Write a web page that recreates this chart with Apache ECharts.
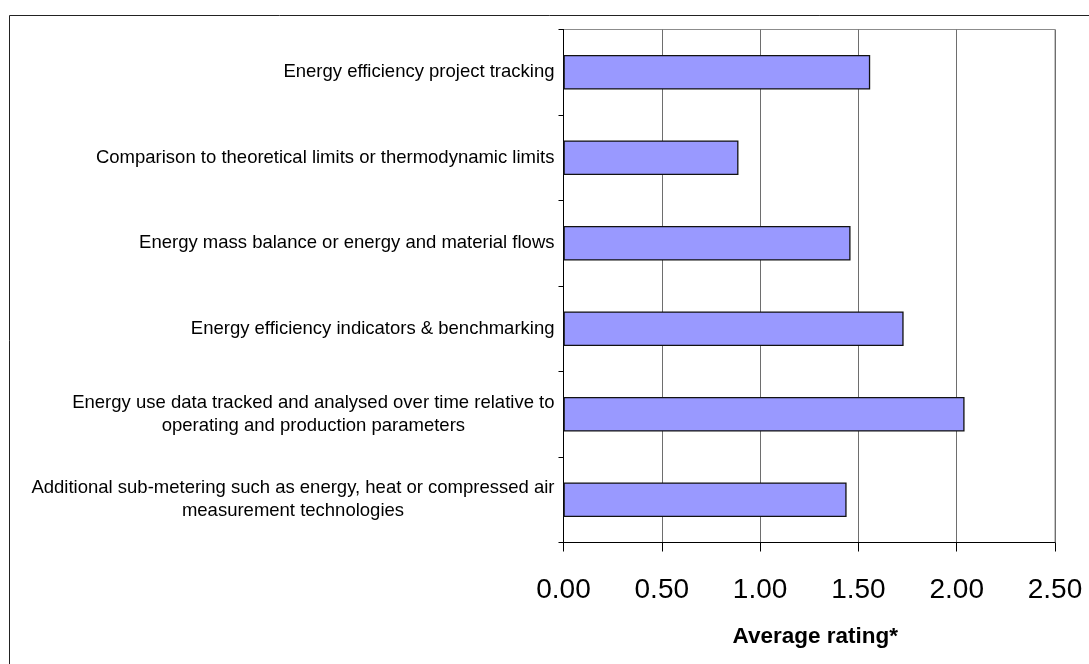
<!DOCTYPE html>
<html>
<head>
<meta charset="utf-8">
<script src="https://cdn.jsdelivr.net/npm/echarts@6/dist/echarts.min.js"></script>
<style>
html,body{margin:0;padding:0;background:#fff;}
#chart{width:1089px;height:664px;}
</style>
</head>
<body>
<div id="chart"></div>
<script>
const categories = [
  "Energy efficiency project tracking",
  "Comparison to theoretical limits or thermodynamic limits",
  "Energy mass balance or energy and material flows",
  "Energy efficiency indicators & benchmarking",
  "Energy use data tracked and analysed over time relative to\noperating and production parameters",
  "Additional sub-metering such as energy, heat or compressed air\nmeasurement technologies"
];
const ratings = [1.56, 0.89, 1.46, 1.73, 2.04, 1.44];
const xTicks = [0, 0.5, 1, 1.5, 2, 2.5];
const axisTitle = "Average rating*";

const chart = echarts.init(document.getElementById('chart'), null, {renderer: 'canvas'});
const font = '"Liberation Sans", Arial, sans-serif';

chart.setOption({
  animation: false,
  backgroundColor: '#ffffff',
  graphic: [{
    type: 'rect',
    shape: {x: 9.5, y: 15.5, width: 1100, height: 700},
    style: {fill: 'none', stroke: '#222', lineWidth: 1},
    silent: true,
    z: -10
  }],
  grid: {
    left: 563.5, right: 34, top: 29.5, bottom: 121.5,
    show: true, borderColor: '#8c8c8c', borderWidth: 1, backgroundColor: 'transparent'
  },
  xAxis: {
    type: 'value',
    min: xTicks[0],
    max: xTicks[xTicks.length - 1],
    interval: xTicks[1] - xTicks[0],
    axisLine: {show: true, lineStyle: {color: '#000', width: 1}},
    axisTick: {show: true, length: 9, lineStyle: {color: '#000'}},
    splitLine: {show: true, lineStyle: {color: '#6e6e6e', width: 1}},
    axisLabel: {
      color: '#000', fontFamily: font, fontSize: 28, margin: 34,
      formatter: v => v.toFixed(2)
    },
    name: axisTitle,
    nameLocation: 'middle',
    nameGap: 83,
    nameTextStyle: {color: '#000', fontFamily: font, fontSize: 22.5, fontWeight: 'bold', padding: [0, 0, 0, 12]}
  },
  yAxis: {
    type: 'category',
    data: categories,
    inverse: true,
    axisLine: {show: true, lineStyle: {color: '#000', width: 1}},
    axisTick: {show: true, length: 5, alignWithLabel: false, lineStyle: {color: '#000'}},
    splitLine: {show: false},
    axisLabel: {
      color: '#000', fontFamily: font, fontSize: 18.5, margin: 9,
      formatter: function (v) {
        return v.split('\n').map(l => '{c|' + l + '}').join('\n');
      },
      rich: {
        c: {color: '#000', fontFamily: font, fontSize: 18.5, lineHeight: 23, align: 'center'}
      }
    }
  },
  series: [{
    type: 'bar',
    data: ratings,
    barWidth: '40.5%',
    itemStyle: {color: '#9999ff', borderColor: '#111', borderWidth: 1.3}
  }]
});
</script>
</body>
</html>
